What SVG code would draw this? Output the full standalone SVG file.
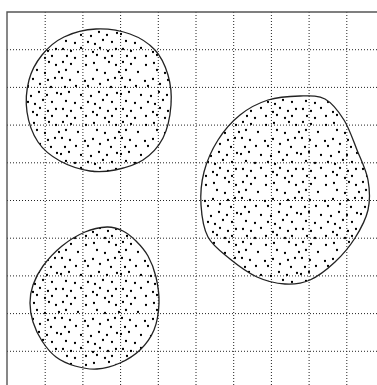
<svg xmlns="http://www.w3.org/2000/svg" width="377" height="385" viewBox="0 0 377 385">
  <style>
    .grid line { stroke: #222; stroke-width: 1; stroke-dasharray: 1 2; }
    .frame { stroke: #555; stroke-width: 1.4; fill: none; }
    .blob { fill: url(#dots); stroke: #222; stroke-width: 1.3; }
  </style>
  <defs>
    <pattern id="dots" patternUnits="userSpaceOnUse" width="60" height="60">
      <path fill="none" stroke="#000" stroke-width="2.3" stroke-linecap="round" d="M3 2h0M11 4h0M26 5h0M34 3h0M49 2h0M56 5h0M6 10h0M18 12h0M37 10h0M45 13h0M59 12h0M2 18h0M10 20h0M25 21h0M33 19h0M48 20h0M55 18h0M5 27h0M16 26h0M28 26h0M40 24h0M51 27h0M1 34h0M9 32h0M21 35h0M31 36h0M39 32h0M47 35h0M57 33h0M6 41h0M15 43h0M28 42h0M35 44h0M43 40h0M52 42h0M3 49h0M11 51h0M21 48h0M33 52h0M40 48h0M48 51h0M56 49h0M7 56h0M15 58h0M26 56h0M37 55h0M45 58h0M52 56h0"/>
    </pattern>
  </defs>
  <g id="grid" class="grid">
    <line x1="45.2" y1="12" x2="45.2" y2="385"/>
    <line x1="82.9" y1="12" x2="82.9" y2="385"/>
    <line x1="120.6" y1="12" x2="120.6" y2="385"/>
    <line x1="158.3" y1="12" x2="158.3" y2="385"/>
    <line x1="196" y1="12" x2="196" y2="385"/>
    <line x1="233.7" y1="12" x2="233.7" y2="385"/>
    <line x1="271.4" y1="12" x2="271.4" y2="385"/>
    <line x1="309.1" y1="12" x2="309.1" y2="385"/>
    <line x1="346.8" y1="12" x2="346.8" y2="385"/>
    <line x1="7" y1="49.7" x2="377" y2="49.7"/>
    <line x1="7" y1="87.4" x2="377" y2="87.4"/>
    <line x1="7" y1="125.1" x2="377" y2="125.1"/>
    <line x1="7" y1="162.8" x2="377" y2="162.8"/>
    <line x1="7" y1="200.5" x2="377" y2="200.5"/>
    <line x1="7" y1="238.2" x2="377" y2="238.2"/>
    <line x1="7" y1="275.9" x2="377" y2="275.9"/>
    <line x1="7" y1="313.6" x2="377" y2="313.6"/>
    <line x1="7" y1="351.3" x2="377" y2="351.3"/>
  </g>
  <path id="frame" class="frame" d="M7 385V12H377"/>
  <g id="blob-top-left">
    <path class="blob" d="M96,29 C107,28.5 120.2,30.5 130,34 C139.8,37.5 148.7,43.2 155,50 C161.3,56.8 165.3,65.8 168,75 C170.7,84.2 171.8,94.5 171,105 C170.2,115.5 167.7,128.8 163,138 C158.3,147.2 151,154.7 143,160 C135,165.3 123.8,168.2 115,170 C106.2,171.8 99.2,172.5 90,171 C80.8,169.5 68.7,165.8 60,161 C51.3,156.2 43.5,150.2 38,142 C32.5,133.8 28.5,122.3 27,112 C25.5,101.7 26.5,89.5 29,80 C31.5,70.5 36.2,62.2 42,55 C47.8,47.8 55,41.3 64,37 C73,32.7 85,29.5 96,29 Z"/>
  </g>
  <g id="blob-right">
    <path class="blob" d="M300,96 C309.5,95.8 317.7,95 325,99 C332.3,103 338.7,111.5 344,120 C349.3,128.5 353,140 357,150 C361,160 366.2,170 368,180 C369.8,190 370.2,200.3 368,210 C365.8,219.7 360.5,229.3 355,238 C349.5,246.7 342.5,255 335,262 C327.5,269 318.3,276.3 310,280 C301.7,283.7 293.8,284.5 285,284 C276.2,283.5 266.2,281.2 257,277 C247.8,272.8 238.2,265.7 230,259 C221.8,252.3 212.8,246 208,237 C203.2,228 201.7,215.8 201,205 C200.3,194.2 201.2,182.8 204,172 C206.8,161.2 212,149.5 218,140 C224,130.5 231.7,121.7 240,115 C248.3,108.3 258,103.2 268,100 C278,96.8 290.5,96.2 300,96 Z"/>
  </g>
  <g id="blob-bottom-left">
    <path class="blob" d="M107,227 C113.3,226.8 118.2,228.7 123,231 C127.8,233.3 131.8,236.8 136,241 C140.2,245.2 144.7,250 148,256 C151.3,262 154.2,269.2 156,277 C157.8,284.8 159.3,294.2 159,303 C158.7,311.8 157.2,322.2 154,330 C150.8,337.8 145.7,344.5 140,350 C134.3,355.5 127.2,359.8 120,363 C112.8,366.2 104.5,368.5 97,369 C89.5,369.5 81.8,368 75,366 C68.2,364 61.5,361.2 56,357 C50.5,352.8 45.8,346.8 42,341 C38.2,335.2 35,328.3 33,322 C31,315.7 30,309.2 30,303 C30,296.8 30.8,291.2 33,285 C35.2,278.8 38.2,272.5 43,266 C47.8,259.5 55,251.7 62,246 C69,240.3 77.5,235.2 85,232 C92.5,228.8 100.7,227.2 107,227 Z"/>
  </g>
</svg>
